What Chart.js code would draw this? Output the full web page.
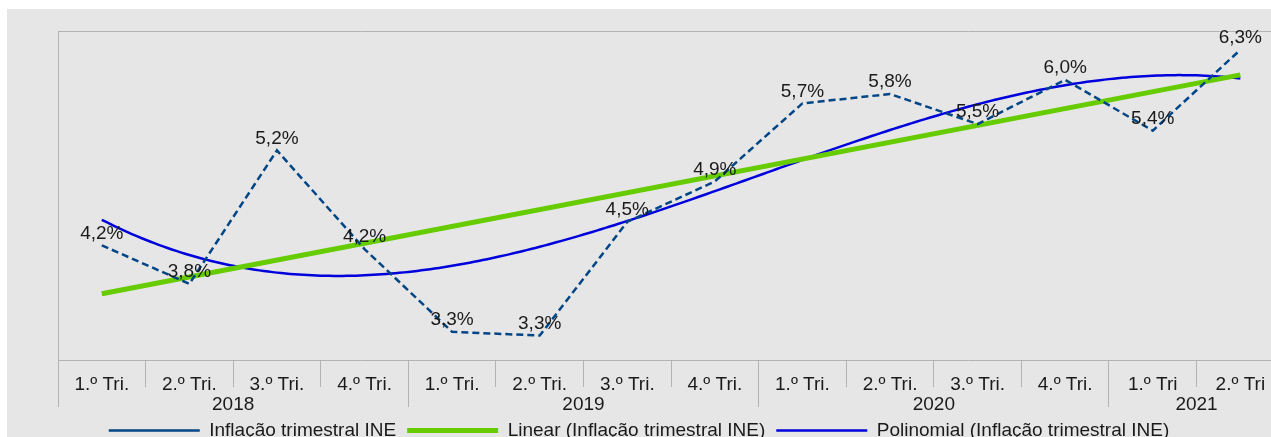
<!DOCTYPE html>
<html>
<head>
<meta charset="utf-8">
<title>Inflação trimestral INE</title>
<script src="https://cdn.jsdelivr.net/npm/chart.js@4/dist/chart.umd.min.js"></script>
<style>
  html, body { margin: 0; padding: 0; background: #ffffff; overflow: hidden; width: 1271px; height: 437px; }
  #wrap { position: absolute; left: 7px; top: 9px; width: 1264px; height: 441px; background: #e6e6e6; }
  canvas { display: block; }
</style>
</head>
<body>
<div id="wrap"><canvas id="chart" width="1264" height="441"></canvas></div>
<script>
// Quarter labels (first row of the category axis)
const quarters = [
  '1.º Tri.', '2.º Tri.', '3.º Tri.', '4.º Tri.',
  '1.º Tri.', '2.º Tri.', '3.º Tri.', '4.º Tri.',
  '1.º Tri.', '2.º Tri.', '3.º Tri.', '4.º Tri.',
  '1.º Tri', '2.º Tri'
];
// Year labels (second row) and how many quarters each year spans
const years = ['2018', '2019', '2020', '2021'];
const quartersPerYear = [4, 4, 4, 2];

// Quarterly inflation, percent
const inflation = [4.22, 3.81, 5.23, 4.18, 3.30, 3.26, 4.47, 4.90, 5.73, 5.83, 5.51, 5.98, 5.44, 6.30];

const seriesName = 'Inflação trimestral INE';
const linearName = 'Linear (Inflação trimestral INE)';
const polyName = 'Polinomial (Inflação trimestral INE)';

// Least-squares polynomial fit; returns coefficients c0..cn
function polyFit(xs, ys, degree) {
  const n = degree + 1;
  const A = Array.from({ length: n }, () => new Array(n + 1).fill(0));
  for (let r = 0; r < n; r++) {
    for (let c = 0; c < n; c++) {
      A[r][c] = xs.reduce((s, x) => s + Math.pow(x, r + c), 0);
    }
    A[r][n] = xs.reduce((s, x, i) => s + Math.pow(x, r) * ys[i], 0);
  }
  for (let p = 0; p < n; p++) {
    let best = p;
    for (let r = p + 1; r < n; r++) if (Math.abs(A[r][p]) > Math.abs(A[best][p])) best = r;
    [A[p], A[best]] = [A[best], A[p]];
    for (let r = 0; r < n; r++) {
      if (r === p) continue;
      const f = A[r][p] / A[p][p];
      for (let c = p; c <= n; c++) A[r][c] -= f * A[p][c];
    }
  }
  return A.map((row, i) => row[n] / row[i]);
}
const evalPoly = (coef, x) => coef.reduce((s, c, i) => s + c * Math.pow(x, i), 0);

const xs = inflation.map((_, i) => i);
const linCoef = polyFit(xs, inflation, 1);
const cubCoef = polyFit(xs, inflation, 3);

const seriesPoints = inflation.map((v, i) => ({ x: i, y: v }));
const linearPoints = [0, xs.length - 1].map(x => ({ x, y: evalPoly(linCoef, x) }));
const polyPoints = [];
for (let k = 0; k <= (xs.length - 1) * 20; k++) {
  const x = k / 20;
  polyPoints.push({ x, y: evalPoly(cubCoef, x) });
}

// Year row: separators at year boundaries, labels at year centres
const yearBounds = [];
const yearCentres = [];
let start = -0.5;
years.forEach((y, i) => {
  yearBounds.push(start);
  yearCentres.push(start + quartersPerYear[i] / 2);
  start += quartersPerYear[i];
});

const visibleMax = 13.35; // the last quarter runs past the right edge
const gridGrey = '#b3b3b3';
const textColor = '#1a1a1a';
const fontFamily = "'Liberation Sans', Arial, Helvetica, sans-serif";
const fontSize = 19;

Chart.defaults.font.family = fontFamily;
Chart.defaults.font.size = fontSize;
Chart.defaults.color = textColor;

const fmtPct = v => v.toFixed(1).replace('.', ',') + '%';

// Value labels above each point of the quarterly series
const pointLabels = {
  id: 'pointLabels',
  afterDatasetsDraw(chart) {
    const meta = chart.getDatasetMeta(0);
    const data = chart.data.datasets[0].data;
    const ctx = chart.ctx;
    ctx.save();
    ctx.font = fontSize + 'px ' + fontFamily;
    ctx.fillStyle = textColor;
    ctx.textAlign = 'center';
    ctx.textBaseline = 'middle';
    meta.data.forEach((pt, i) => {
      ctx.fillText(fmtPct(data[i].y), pt.x, pt.y - 12);
    });
    ctx.restore();
  }
};

const hiddenAxisBase = {
  type: 'linear',
  min: -0.5,
  max: visibleMax
};

new Chart(document.getElementById('chart'), {
  type: 'line',
  data: {
    datasets: [
      {
        label: seriesName,
        data: seriesPoints,
        borderColor: '#004586',
        backgroundColor: '#004586',
        borderWidth: 2.5,
        borderDash: [7, 4],
        pointRadius: 0,
        tension: 0,
        fill: false
      },
      {
        label: linearName,
        data: linearPoints,
        borderColor: '#66cc00',
        backgroundColor: '#66cc00',
        borderWidth: 5,
        pointRadius: 0,
        tension: 0,
        fill: false
      },
      {
        label: polyName,
        data: polyPoints,
        borderColor: '#0000dd',
        backgroundColor: '#0000dd',
        borderWidth: 2.5,
        pointRadius: 0,
        tension: 0,
        fill: false
      }
    ]
  },
  options: {
    responsive: false,
    animation: false,
    events: [],
    layout: { padding: { top: 22, left: 0, right: 0, bottom: 0 } },
    scales: {
      // long separators between years, running through both label rows
      xSep: Object.assign({}, hiddenAxisBase, {
        position: 'bottom',
        weight: 0,
        afterBuildTicks: s => { s.ticks = yearBounds.map(v => ({ value: v })); },
        afterFit: s => { s.height = 0; },
        ticks: { display: false },
        grid: {
          display: true,
          offset: false,
          drawOnChartArea: false,
          drawTicks: true,
          tickLength: 47,
          color: gridGrey,
          lineWidth: 1
        },
        border: { display: false }
      }),
      // quarter row (data axis)
      x: Object.assign({}, hiddenAxisBase, {
        position: 'bottom',
        weight: 1,
        afterBuildTicks: s => { s.ticks = quarters.map((_, i) => ({ value: i })); },
        afterFit: s => { s.height = 30; },
        ticks: {
          autoSkip: false,
          maxRotation: 0,
          minRotation: 0,
          padding: -14,
          color: textColor,
          callback: (v, i) => quarters[i]
        },
        grid: {
          display: true,
          offset: true,
          drawOnChartArea: false,
          drawTicks: true,
          tickLength: 27,
          color: gridGrey,
          lineWidth: 1
        },
        border: { display: true, color: gridGrey, width: 1 }
      }),
      // year row
      xYear: Object.assign({}, hiddenAxisBase, {
        position: 'bottom',
        weight: 2,
        afterBuildTicks: s => { s.ticks = yearCentres.map(v => ({ value: v })); },
        afterFit: s => { s.height = 20; },
        ticks: {
          autoSkip: false,
          maxRotation: 0,
          minRotation: 0,
          padding: 3,
          color: textColor,
          callback: (v, i) => years[i]
        },
        grid: { display: false, drawTicks: false },
        border: { display: false }
      }),
      // top edge of the plot area
      xTop: Object.assign({}, hiddenAxisBase, {
        position: 'top',
        afterFit: s => { s.height = 0; },
        ticks: { display: false },
        grid: { display: false, drawTicks: false },
        border: { display: true, color: gridGrey, width: 1 }
      }),
      y: {
        type: 'linear',
        min: 3,
        max: 6.5,
        afterFit: s => { s.width = 51; },
        ticks: { display: false },
        grid: { display: false, drawTicks: false },
        border: { display: true, color: gridGrey, width: 1 }
      }
    },
    plugins: {
      tooltip: { enabled: false },
      legend: {
        display: true,
        position: 'bottom',
        labels: {
          usePointStyle: true,
          pointStyle: 'line',
          pointStyleWidth: 91,
          padding: 11,
          color: textColor,
          font: { size: fontSize, family: fontFamily }
        }
      }
    }
  },
  plugins: [pointLabels]
});
</script>
</body>
</html>
